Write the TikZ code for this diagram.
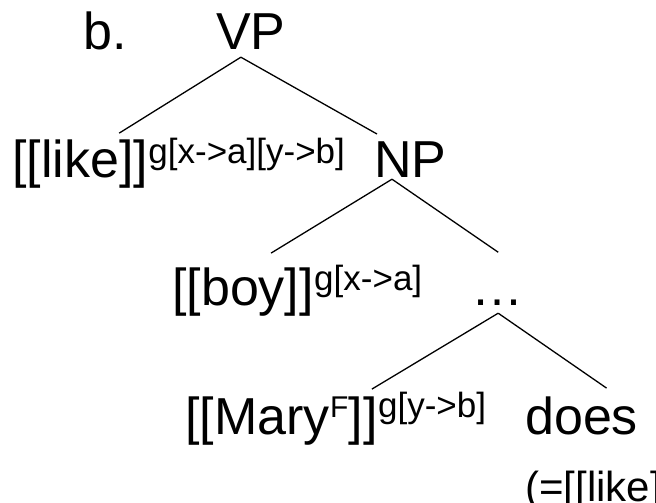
\documentclass[tikz,border=0pt]{standalone}
\usepackage{fontspec}
\setmainfont{Liberation Sans}
\tikzset{
  word/.style={font=\fontsize{52}{60}\selectfont, inner sep=0pt, anchor=base west},
  supword/.style={font=\fontsize{35}{40}\selectfont, inner sep=0pt, anchor=base west},
  focword/.style={font=\fontsize{30}{34}\selectfont, inner sep=0pt, anchor=base west},
  gloss/.style={font=\fontsize{42}{48}\selectfont, inner sep=0pt, anchor=base west},
  branch/.style={line width=1.3pt}
}
\begin{document}
\begin{tikzpicture}[x=1pt,y=-1pt]
\useasboundingbox (0,0) rectangle (656,503);
% labels
\node[word] (lbl) at (83,50) {b.};
\node[word] (vp) at (216,50) {VP};
\node[word] (like) at (12,177) {[[like]]};
\node[supword] (likeg) at ([yshift=14pt]like.base east) {g[x->a][y->b]};
\node[word] (np) at (374,177) {NP};
\node[word] (boy) at (172,305) {[[boy]]};
\node[supword] (boyg) at ([yshift=15pt]boy.base east) {g[x->a]};
\node[word] (dots) at (471,305) {…};
\node[word] (mary) at (185,434) {[[Mary};
\node[focword] (maryf) at ([yshift=17pt]mary.base east) {F};
\node[word] (maryr) at (mary.base -| maryf.east) {]]};
\node[supword] (maryg) at ([yshift=17pt]maryr.base east) {g[y->b]};
\node[word] (does) at (525,434) {does};
\node[gloss] (eq) at (525,501) {(=[[like]};
% branches
\draw[branch] ([shift={(-10,7)}]vp.south) -- ([shift={(-29,-6)}]like.north east);
\draw[branch] ([shift={(-10,7)}]vp.south) -- ([shift={(3,-7)}]np.north west);
\draw[branch] ([shift={(18,2)}]np.south west) -- ([shift={(-43,-14)}]boy.north east);
\draw[branch] ([shift={(18,2)}]np.south west) -- ([shift={(1,-47)}]dots.north);
\draw[branch] ([shift={(1,8)}]dots.south) -- ([shift={(-6,-7)}]maryr.north east);
\draw[branch] ([shift={(1,8)}]dots.south) -- ([shift={(25,-8)}]does.north);
\end{tikzpicture}
\end{document}
